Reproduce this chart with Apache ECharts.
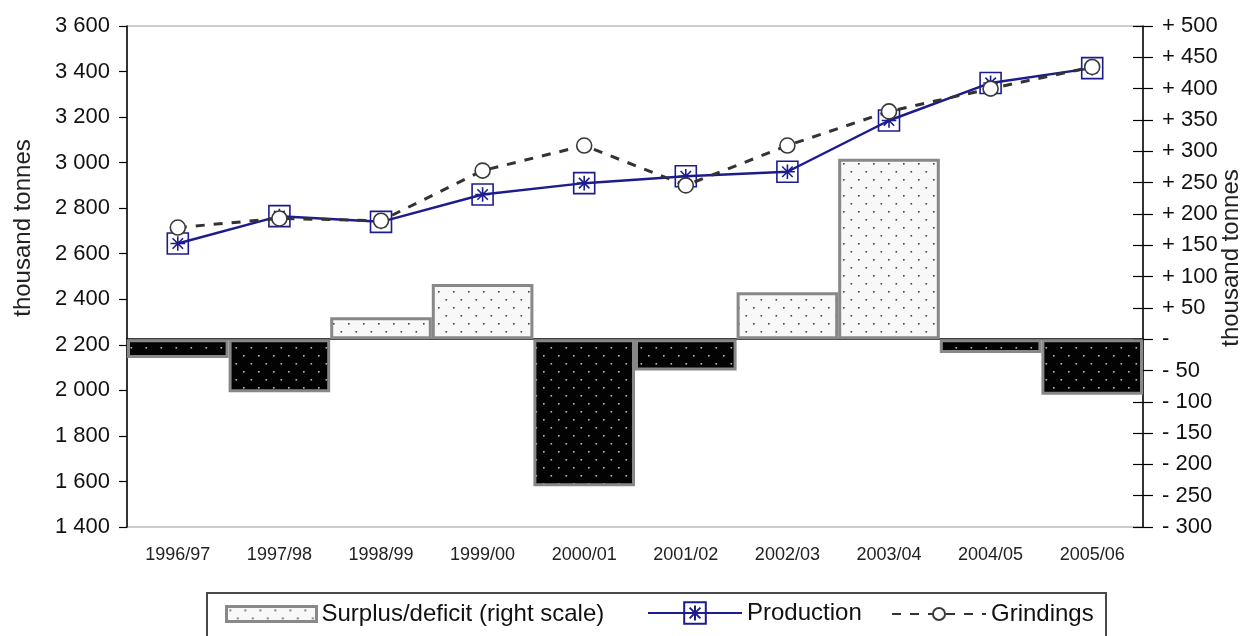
<!DOCTYPE html>
<html>
<head>
<meta charset="utf-8">
<title>Cocoa production, grindings and surplus/deficit</title>
<script src="https://cdn.jsdelivr.net/npm/echarts@6/dist/echarts.min.js"></script>
<style>
  html, body { margin: 0; padding: 0; background: #fff; }
  #chart { width: 1244px; height: 636px; }
</style>
</head>
<body>
<div id="chart"></div>
<script>
// Crop years
const seasons = ['1996/97', '1997/98', '1998/99', '1999/00', '2000/01',
                 '2001/02', '2002/03', '2003/04', '2004/05', '2005/06'];
// Thousand tonnes
const production = [2645, 2765, 2740, 2860, 2910, 2940, 2960, 3185, 3350, 3415];
const grindings  = [2715, 2755, 2745, 2965, 3075, 2900, 3075, 3225, 3325, 3420];
// Surplus (+) / deficit (-), thousand tonnes, right scale
const surplus    = [-30, -85, 35, 88, -235, -50, 75, 288, -22, -89];

const seriesNames = ['Surplus/deficit (right scale)', 'Production', 'Grindings'];
const axisTitle = 'thousand tonnes';

const FONT = '"Liberation Sans", Arial, sans-serif';
const NAVY = '#1c1c8e';

// Dotted fill used for the surplus/deficit bars
function dotPattern(bg, dot) {
  const c = document.createElement('canvas');
  c.width = 15; c.height = 16;
  const g = c.getContext('2d');
  g.fillStyle = bg;
  g.fillRect(0, 0, 15, 16);
  g.fillStyle = dot;
  g.fillRect(3, 3, 1.6, 1.6);
  g.fillRect(10.5, 11, 1.6, 1.6);
  return { image: c, repeat: 'repeat' };
}
const surplusFill = dotPattern('#f8f8f8', '#444');
const deficitFill = dotPattern('#030303', '#bdbdbd');

// Boxed asterisk marker for production
const boxStar = 'path://M0,0 H20 V20 H0 Z M10,3 V17 M3,10 H17 M5,5 L15,15 M15,5 L5,15';

function thousands(v) {
  const s = String(Math.abs(v));
  return s.replace(/\B(?=(\d{3})+(?!\d))/g, ' ');
}
function signed(v) {
  if (v === 0) return '-';
  return (v > 0 ? '+ ' : '- ') + Math.abs(v);
}

const legendText = { fontFamily: FONT, fontSize: 24, color: '#111' };

const chart = echarts.init(document.getElementById('chart'), null, { renderer: 'canvas' });

const option = {
  animation: false,
  backgroundColor: '#fff',
  textStyle: { fontFamily: FONT },
  grid: {
    left: 127, right: 101, top: 26, bottom: 109,
    show: true, borderColor: '#9a9a9a', borderWidth: 1, backgroundColor: 'transparent'
  },
  // one legend block per entry so each swatch gets its own height
  legend: [
    {
      left: 225, top: 602, padding: 0,
      itemWidth: 90, itemHeight: 15,
      textStyle: legendText,
      data: [{ name: seriesNames[0], icon: 'rect', itemStyle: { borderColor: '#888', borderWidth: 3 } }]
    },
    {
      left: 647, top: 601, padding: 0,
      itemWidth: 94, itemHeight: 27,
      textStyle: legendText,
      data: [seriesNames[1]]
    },
    {
      left: 891, top: 602, padding: 0,
      itemWidth: 94, itemHeight: 15,
      textStyle: legendText,
      data: [seriesNames[2]]
    }
  ],
  xAxis: {
    type: 'category',
    data: seasons,
    boundaryGap: true,
    axisLine: { lineStyle: { color: '#000', width: 1.5 } },
    axisTick: { length: 8, lineStyle: { color: '#000', width: 1.2 } },
    axisLabel: { fontFamily: FONT, fontSize: 18, color: '#222', margin: 19, interval: 0 },
    splitLine: { show: false }
  },
  yAxis: [
    {
      type: 'value', position: 'left',
      min: 1400, max: 3600, interval: 200,
      axisLine: { show: true, lineStyle: { color: '#000', width: 1.5 } },
      axisTick: { show: true, length: 8, lineStyle: { color: '#000', width: 1.2 } },
      axisLabel: { fontFamily: FONT, fontSize: 22, color: '#111', margin: 17, formatter: thousands },
      splitLine: { show: false }
    },
    {
      type: 'value', position: 'right',
      min: -300, max: 500, interval: 50,
      axisLine: { show: true, lineStyle: { color: '#000', width: 1.5 } },
      axisTick: { show: true, length: 10, lineStyle: { color: '#000', width: 1.2 } },
      axisLabel: { fontFamily: FONT, fontSize: 22, color: '#111', margin: 19, formatter: signed },
      splitLine: { show: false }
    },
    {
      // inner half of the crossing ticks on the right scale
      type: 'value', position: 'right', offset: 0,
      min: -300, max: 500, interval: 50,
      axisLine: { show: false },
      axisTick: { show: true, inside: true, length: 10, lineStyle: { color: '#000', width: 1.2 } },
      axisLabel: { show: false },
      splitLine: { show: false }
    }
  ],
  graphic: [
    {
      type: 'text', x: 23, y: 228, rotation: Math.PI / 2,
      style: { text: axisTitle, font: '24px ' + FONT, fill: '#222', align: 'center', verticalAlign: 'middle' }
    },
    {
      type: 'text', x: 1231, y: 258, rotation: Math.PI / 2,
      style: { text: axisTitle, font: '24px ' + FONT, fill: '#222', align: 'center', verticalAlign: 'middle' }
    },
    {
      type: 'rect', shape: { x: 207, y: 593, width: 899, height: 70 },
      style: { fill: 'none', stroke: '#4a4a4a', lineWidth: 2 }, z: 10
    }
  ],
  series: [
    {
      name: seriesNames[0],
      type: 'bar',
      yAxisIndex: 1,
      barWidth: '100%',
      barCategoryGap: '0%',
      itemStyle: { color: surplusFill, borderColor: '#888', borderWidth: 3 },
      data: surplus.map(v => v < 0
        ? { value: v, itemStyle: { color: deficitFill } }
        : { value: v })
    },
    {
      name: seriesNames[1],
      type: 'line',
      yAxisIndex: 0,
      data: production,
      symbol: boxStar,
      symbolSize: 21,
      lineStyle: { color: NAVY, width: 2.5 },
      itemStyle: { color: 'rgba(255,255,255,0)', borderColor: NAVY, borderWidth: 1.6 },
      z: 3
    },
    {
      name: seriesNames[2],
      type: 'line',
      yAxisIndex: 0,
      data: grindings,
      symbol: 'circle',
      symbolSize: 15,
      lineStyle: { color: '#333', width: 3, type: [9, 9] },
      itemStyle: { color: '#fff', borderColor: '#3a3a3a', borderWidth: 1.6 },
      z: 4
    }
  ]
};

chart.setOption(option);
</script>
</body>
</html>
